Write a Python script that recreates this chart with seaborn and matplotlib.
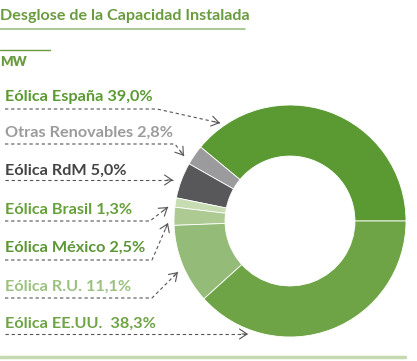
import matplotlib
matplotlib.use("Agg")
import matplotlib.pyplot as plt
import seaborn as sns

sns.set_theme(style="white")
plt.rcParams['font.family'] = ['Lato', 'DejaVu Sans']

# ---- data ----
categories = ["Eólica España", "Otras Renovables", "Eólica RdM", "Eólica Brasil",
              "Eólica México", "Eólica R.U.", "Eólica EE.UU."]
shares = [39.0, 2.8, 5.0, 1.3, 2.5, 11.1, 38.3]
share_labels = ["39,0%", "2,8%", "5,0%", "1,3%", "2,5%", "11,1%", " 38,3%"]
wedge_colors = ["#5b9a33", "#9b9b9d", "#58585a", "#c8dcb4", "#adca92", "#94bb77", "#6fa446"]
label_colors = ["#5b9a33", "#9b9b9d", "#444446", "#66a03a", "#5d9636", "#9cc181", "#6fa446"]
title = "Desglose de la Capacidad Instalada"
unit = "MW"

W, H = 417, 361
fig = plt.figure(figsize=(W / 100, H / 100), dpi=100)
fig.patch.set_facecolor("white")

# donut axes (pixel layout)
cx, cy, r = 290, 221, 116
pax = fig.add_axes([(cx - r) / W, (H - cy - r) / H, 2 * r / W, 2 * r / H])
pax.pie(shares, colors=wedge_colors, startangle=0, counterclock=True,
        radius=1, wedgeprops=dict(width=0.44, linewidth=0.6, edgecolor="white"))
pax.set_xlim(-1, 1)
pax.set_ylim(-1, 1)
pax.set_aspect("equal")
pax.axis("off")

# overlay axes in pixel coordinates
ax = fig.add_axes([0, 0, 1, 1], facecolor="none")
ax.set_xlim(0, W)
ax.set_ylim(H, 0)
ax.axis("off")

green = "#6a9c3f"
ax.text(0, 16, title, color=green, fontsize=11.6, fontweight="bold", va="center", ha="left")
ax.plot([0, 245], [28.5, 28.5], color="#9cbf84", lw=1.2)
ax.plot([0, 50], [50, 50], color="#6a9c3f", lw=1.0)
ax.text(0, 62, unit, color=green, fontsize=9.5, fontweight="heavy", va="center", ha="left")
ax.plot([0, 405], [357, 357], color="#c5dab0", lw=2.5)

label_y = [97, 133, 171, 210, 248, 287, 324]
paths = [
    [(5, 109), (157, 109), (220, 123)],
    [(5, 144), (175, 144), (184, 156)],
    [(5, 180), (173, 180)],
    [(5, 221), (150, 221), (168, 207)],
    [(5, 260), (152, 260), (168, 223)],
    [(5, 298), (152, 298), (178, 272)],
    [(5, 334), (248, 334)],
]
for name, lab, col, y, path in zip(categories, share_labels, label_colors, label_y, paths):
    ax.text(5, y, f"{name} {lab}", color=col, fontsize=11.7, fontweight="bold",
            va="center", ha="left")
    xs = [p[0] for p in path]
    ys = [p[1] for p in path]
    ax.plot(xs, ys, color="#555555", lw=0.8, ls=(0, (3, 2.5)))
    (x0, y0), (x1, y1) = path[-2], path[-1]
    dx, dy = x1 - x0, y1 - y0
    L = (dx ** 2 + dy ** 2) ** 0.5
    ax.annotate("", xy=(x1, y1), xytext=(x1 - dx / L * 6, y1 - dy / L * 6),
                arrowprops=dict(arrowstyle="->,head_length=0.45,head_width=0.3",
                                color="#555555", lw=0.8, shrinkA=0, shrinkB=0))

fig.savefig("out.png", dpi=100, facecolor="white")
